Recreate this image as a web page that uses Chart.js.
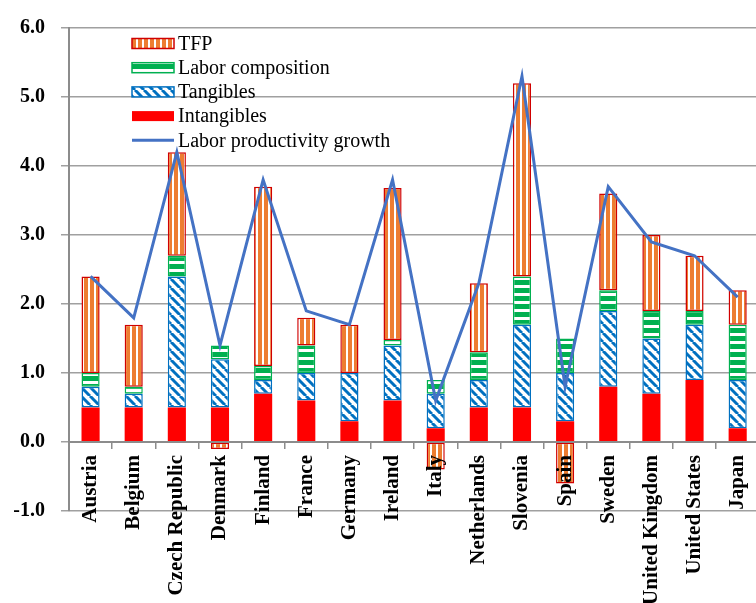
<!DOCTYPE html>
<html>
<head>
<meta charset="utf-8">
<script src="https://cdn.jsdelivr.net/npm/chart.js@4/dist/chart.umd.min.js"></script>
<style>
  html, body { margin: 0; padding: 0; background: #fff; overflow: hidden; }
  #wrap { width: 770px; height: 603px; }
</style>
</head>
<body>
<div id="wrap"><canvas id="chart" width="770" height="603"></canvas></div>
<script>
// Datos
const countries = ["Austria", "Belgium", "Czech Republic", "Denmark", "Finland", "France", "Germany",
  "Ireland", "Italy", "Netherlands", "Slovenia", "Spain", "Sweden", "United Kingdom", "United States", "Japan"];
const intangibles = [0.5, 0.5, 0.5, 0.5, 0.7, 0.6, 0.3, 0.6, 0.2, 0.5, 0.5, 0.3, 0.8, 0.7, 0.9, 0.2];
const tangibles   = [0.3, 0.2, 1.9, 0.7, 0.2, 0.4, 0.7, 0.8, 0.5, 0.4, 1.2, 0.7, 1.1, 0.8, 0.8, 0.7];
const laborComp   = [0.2, 0.1, 0.3, 0.2, 0.2, 0.4, 0.0, 0.08, 0.2, 0.4, 0.7, 0.5, 0.3, 0.4, 0.2, 0.8];
const tfp         = [1.4, 0.9, 1.5, -0.1, 2.6, 0.4, 0.7, 2.2, -0.4, 1.0, 2.8, -0.6, 1.4, 1.1, 0.8, 0.5];
const lpGrowth    = [2.4, 1.8, 4.2, 1.4, 3.8, 1.9, 1.7, 3.8, 0.6, 2.3, 5.3, 0.8, 3.7, 2.9, 2.7, 2.1];
const yTicks = [-1, 0, 1, 2, 3, 4, 5, 6];

// Tramas de relleno
function makePattern(w, h, draw) {
  const c = document.createElement("canvas");
  c.width = w; c.height = h;
  const g = c.getContext("2d");
  g.fillStyle = "#fff";
  g.fillRect(0, 0, w, h);
  draw(g, w, h);
  return document.getElementById("chart").getContext("2d").createPattern(c, "repeat");
}

const tfpFill = makePattern(6, 6, (g) => {
  g.fillStyle = "#ED7D31";
  g.fillRect(0, 0, 4, 6);
});
const laborFill = makePattern(8, 8, (g) => {
  g.fillStyle = "#00B050";
  g.fillRect(0, 0, 8, 5);
});
const tangFill = makePattern(9, 9, (g, s) => {
  g.strokeStyle = "#0070C0";
  g.lineWidth = 3;
  [-s, 0, s].forEach(k => {
    g.beginPath();
    g.moveTo(k, 0);
    g.lineTo(k + s, s);
    g.stroke();
  });
});

const tfpBorder = "#D00000";
const laborBorder = "#00B050";
const tangBorder = "#0070C0";
const intangColor = "#FF0000";
const lineColor = "#4472C4";

// Leyenda dibujada dentro del área del gráfico
const legendPlugin = {
  id: "boxLegend",
  afterDraw(chart) {
    const ctx = chart.ctx;
    const items = [
      { label: "TFP", fill: tfpFill, border: tfpBorder },
      { label: "Labor composition", fill: laborFill, border: laborBorder },
      { label: "Tangibles", fill: tangFill, border: tangBorder },
      { label: "Intangibles", fill: intangColor, border: null },
      { label: "Labor productivity growth", line: lineColor }
    ];
    ctx.save();
    ctx.font = '20px "Liberation Serif"';
    ctx.textBaseline = "middle";
    items.forEach((it, i) => {
      const y = 43.5 + i * 24.2;
      if (it.line) {
        ctx.strokeStyle = it.line;
        ctx.lineWidth = 3;
        ctx.beginPath();
        ctx.moveTo(132, y);
        ctx.lineTo(174, y);
        ctx.stroke();
      } else {
        ctx.fillStyle = it.fill;
        ctx.fillRect(132, y - 5, 42, 10);
        if (it.border) {
          ctx.strokeStyle = it.border;
          ctx.lineWidth = 1.5;
          ctx.strokeRect(132, y - 5, 42, 10);
        }
      }
      ctx.fillStyle = "#000";
      ctx.fillText(it.label, 178, y + 1);
    });
    ctx.restore();
  }
};

const barCommon = {
  type: "bar",
  stack: "bars",
  borderSkipped: false,
  borderWidth: 1.5,
  categoryPercentage: 0.42,
  barPercentage: 1,
  order: 2
};

new Chart(document.getElementById("chart"), {
  data: {
    labels: countries,
    datasets: [
      {
        type: "line",
        label: "Labor productivity growth",
        data: lpGrowth,
        stack: "line",
        borderColor: lineColor,
        borderWidth: 3,
        pointRadius: 0,
        tension: 0,
        fill: false,
        order: 1
      },
      Object.assign({}, barCommon, { label: "Intangibles", data: intangibles, backgroundColor: intangColor, borderWidth: 0 }),
      Object.assign({}, barCommon, { label: "Tangibles", data: tangibles, backgroundColor: tangFill, borderColor: tangBorder }),
      Object.assign({}, barCommon, { label: "Labor composition", data: laborComp, backgroundColor: laborFill, borderColor: laborBorder }),
      Object.assign({}, barCommon, { label: "TFP", data: tfp, backgroundColor: tfpFill, borderColor: tfpBorder })
    ]
  },
  options: {
    responsive: false,
    animation: false,
    layout: { padding: { top: 25, bottom: 92, left: 0, right: 4 } },
    plugins: {
      legend: { display: false },
      tooltip: { enabled: false }
    },
    scales: {
      x: {
        position: { y: 0 },
        grid: {
          z: 1,
          offset: true,
          drawOnChartArea: false,
          drawTicks: true,
          tickLength: 6,
          color: "#8C8C8C",
          lineWidth: 1.5
        },
        border: { color: "#8C8C8C", width: 2, z: 1 },
        ticks: {
          z: 1,
          autoSkip: false,
          minRotation: 90,
          maxRotation: 90,
          padding: 7,
          color: "#000",
          font: { family: "Liberation Serif", size: 21, weight: "bold" }
        }
      },
      y: {
        stacked: true,
        min: -1,
        max: 6,
        afterFit(scale) { scale.width = 69; },
        afterBuildTicks(scale) { scale.ticks = yTicks.map(v => ({ value: v })); },
        grid: {
          color: "#A0A0A0",
          lineWidth: 1.5,
          tickLength: 8
        },
        border: { color: "#8C8C8C", width: 2 },
        ticks: {
          padding: 16,
          color: "#000",
          font: { family: "Liberation Serif", size: 20, weight: "bold" },
          callback: (v) => v.toFixed(1)
        }
      }
    }
  },
  plugins: [legendPlugin]
});
</script>
</body>
</html>
